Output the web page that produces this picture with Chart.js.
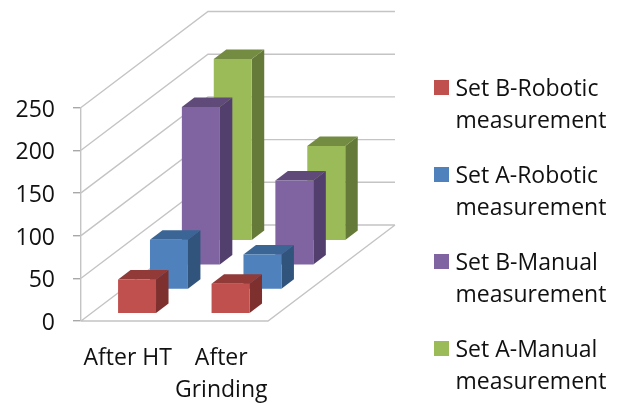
<!DOCTYPE html>
<html>
<head>
<meta charset="utf-8">
<style>html,body{margin:0;padding:0;background:#fff}canvas{display:block}</style>
<script src="https://cdn.jsdelivr.net/npm/chart.js@4"></script>
</head>
<body>
<canvas id="c" width="622" height="403"></canvas>
<script>
const categories = [['After HT'], ['After', 'Grinding']];
const seriesNames = [
  ['Set B-Robotic', 'measurement'],
  ['Set A-Robotic', 'measurement'],
  ['Set B-Manual', 'measurement'],
  ['Set A-Manual', 'measurement']
];
const setBRobotic = [40, 35];
const setARobotic = [58, 41];
const setBManual = [185, 99];
const setAManual = [213, 111];
const seriesValues = [setBRobotic, setARobotic, setBManual, setAManual];

// front, top and side face colours for each series
const frontColors = ['#C0504D', '#4F81BD', '#8064A2', '#9BBB59'];
const topColors = ['#913A38', '#3A6595', '#5F4A7A', '#738C42'];
const sideColors = ['#7D302E', '#31547C', '#533F6E', '#657A38'];

const FLOOR_DX = 127, FLOOR_DY = 96;      // depth of the whole floor
const SLOT_DX = 31.9, SLOT_DY = 24.3;     // depth step between series rows
const START_DX = 9.3, START_DY = 7.3;     // inset of the first row
const BAR_DX = 12.5, BAR_DY = 9.5;        // depth of a single column
const GRID = '#c4c4c4';
const FONT = { family: '"Open Sans", Lato, sans-serif', size: 23 };

// Legend swatch: the colour sits at the top of a slightly taller image,
// which lifts it a little above the centre of the label's first line
function swatch(color) {
  const s = document.createElement('canvas');
  s.width = 15;
  s.height = 19;
  const g = s.getContext('2d');
  g.fillStyle = color;
  g.fillRect(0, 0, 15, 15);
  return s;
}

// Oblique walls and floor behind the columns, led from the value scale's ticks
const walls = {
  id: 'walls',
  beforeDatasetsDraw(chart) {
    const { ctx, chartArea: a, scales: { y } } = chart;
    ctx.save();
    ctx.lineWidth = 1.4;
    ctx.strokeStyle = GRID;
    ctx.beginPath();
    y.ticks.forEach(t => {
      const py = y.getPixelForValue(t.value);
      ctx.moveTo(a.left, py);
      ctx.lineTo(a.left + FLOOR_DX, py - FLOOR_DY);
      ctx.lineTo(a.right + FLOOR_DX, py - FLOOR_DY);
    });
    ctx.moveTo(a.left, a.bottom);
    ctx.lineTo(a.right, a.bottom);
    ctx.lineTo(a.right + FLOOR_DX, a.bottom - FLOOR_DY);
    ctx.stroke();
    ctx.restore();
  }
};

// Each series sits on its own row in depth; the columns get a top and a side face
const columns = {
  id: 'columns',
  beforeDatasetDraw(chart, { index, meta }) {
    const { ctx } = chart;
    ctx.save();
    ctx.translate(START_DX + SLOT_DX * index, -(START_DY + SLOT_DY * index));
    meta.data.forEach(bar => {
      const { x, y, base, width } = bar.getProps(['x', 'y', 'base', 'width'], true);
      const l = x - width / 2, r = x + width / 2;
      ctx.fillStyle = sideColors[index];
      ctx.beginPath();
      ctx.moveTo(r, y);
      ctx.lineTo(r + BAR_DX, y - BAR_DY);
      ctx.lineTo(r + BAR_DX, base - BAR_DY);
      ctx.lineTo(r, base);
      ctx.closePath();
      ctx.fill();
      ctx.fillStyle = topColors[index];
      ctx.beginPath();
      ctx.moveTo(l, y);
      ctx.lineTo(l + BAR_DX, y - BAR_DY);
      ctx.lineTo(r + BAR_DX, y - BAR_DY);
      ctx.lineTo(r, y);
      ctx.closePath();
      ctx.fill();
    });
  },
  afterDatasetDraw(chart) {
    chart.ctx.restore();
  }
};

// The legend keeps the whole space to the right of the floor and sits at its far end
const legendPlacement = {
  id: 'legendPlacement',
  beforeLayout(chart) {
    const legend = chart.legend;
    if (!legend._wrapped) {
      const fit = legend.fit;
      legend.fit = function () {
        fit.call(this);
        this.width = 354;
      };
      legend._wrapped = true;
    }
  },
  afterLayout(chart) {
    const legend = chart.legend;
    legend.left = 416;
    legend.right = 622;
    legend.top = 55;
    legend.bottom = 403;
  }
};

new Chart(document.getElementById('c'), {
  type: 'bar',
  data: {
    labels: categories,
    datasets: seriesNames.map((label, i) => ({
      label,
      data: seriesValues[i],
      backgroundColor: frontColors[i],
      borderWidth: 0,
      clip: false
    }))
  },
  plugins: [walls, columns, legendPlacement],
  options: {
    responsive: false,
    animation: false,
    barPercentage: 0.406,
    categoryPercentage: 1,
    layout: { padding: { top: 107.5, left: 0, right: 0, bottom: 0 } },
    scales: {
      x: {
        stacked: true,
        grid: { display: false },
        border: { display: false },
        ticks: {
          color: '#111',
          font: { ...FONT, lineHeight: 32 / 23 },
          padding: 13,
          maxRotation: 0,
          autoSkip: false
        },
        afterFit(s) { s.height = 82; }
      },
      y: {
        min: 0,
        max: 250,
        grid: { drawOnChartArea: false, drawTicks: true, tickLength: 8, tickColor: '#a8a8a8', lineWidth: 1.4 },
        border: { display: true, color: GRID, width: 1.4 },
        ticks: { stepSize: 50, color: '#111', font: FONT, padding: 18, labelOffset: 2.5 },
        afterFit(s) { s.width = 81; }
      }
    },
    plugins: {
      tooltip: { enabled: false },
      legend: {
        position: 'right',
        align: 'start',
        labels: {
          color: '#111',
          font: { ...FONT, lineHeight: 32 / 23 },
          padding: 23,
          usePointStyle: true,
          boxWidth: 5,
          boxHeight: 15,
          generateLabels(chart) {
            return Chart.defaults.plugins.legend.labels.generateLabels(chart).map(item => {
              item.pointStyle = swatch(item.fillStyle);
              return item;
            });
          }
        }
      }
    }
  }
});
</script>
</body>
</html>
